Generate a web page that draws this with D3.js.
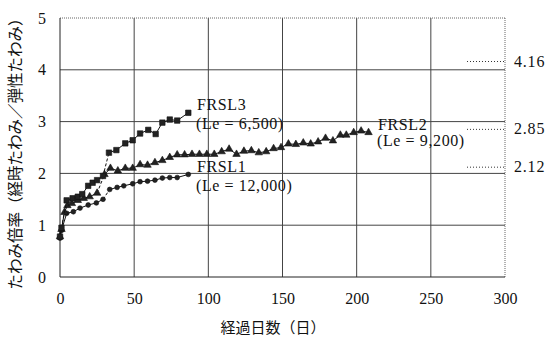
<!DOCTYPE html>
<html>
<head>
<meta charset="utf-8">
<script src="https://cdn.jsdelivr.net/npm/d3@7"></script>
<style>
  body { margin: 0; background: #fff; }
  svg text { fill: #111; }
</style>
</head>
<body>
<svg width="550" height="337"></svg>
<script>
// data
var frsl1Days = [0, 1, 4.5, 9, 13.5, 19, 24.5, 29, 33.5, 38.5, 43, 49, 54, 59, 64, 69, 74, 79, 86.5];
var frsl1Vals = [0.75, 0.9, 1.23, 1.26, 1.33, 1.39, 1.43, 1.5, 1.69, 1.73, 1.76, 1.8, 1.84, 1.85, 1.87, 1.91, 1.92, 1.92, 1.98];

var frsl2Days = [0, 1, 3, 5, 8, 12, 16, 20, 25, 30, 34, 39, 44, 49, 54, 59, 64, 69, 74, 79, 84, 89, 94, 99, 104,
                 109, 114, 119, 124, 129, 134, 139, 144, 149, 154, 159, 164, 169, 174, 179, 184, 189, 193, 198, 203, 208];
var frsl2Vals = [0.78, 0.92, 1.25, 1.38, 1.42, 1.48, 1.52, 1.55, 1.62, 1.98, 2.1, 2.05, 2.1, 2.1, 2.17, 2.16, 2.21, 2.25, 2.31, 2.36, 2.36, 2.37, 2.37, 2.37, 2.37,
                 2.42, 2.47, 2.37, 2.43, 2.44, 2.4, 2.42, 2.48, 2.5, 2.57, 2.56, 2.59, 2.57, 2.61, 2.68, 2.63, 2.74, 2.74, 2.79, 2.82, 2.79];

var frsl3Days = [0, 1, 4.5, 8.5, 12, 15, 19, 22, 25, 29, 33, 38, 44, 49, 54, 59.5, 64.5, 69, 74, 79, 86.5];
var frsl3Vals = [0.78, 0.95, 1.48, 1.52, 1.55, 1.6, 1.76, 1.82, 1.87, 1.95, 2.4, 2.45, 2.58, 2.64, 2.77, 2.84, 2.76, 2.98, 3.04, 3.02, 3.17];

var refVals = [4.16, 2.85, 2.12];
var xTicks = [0, 50, 100, 150, 200, 250, 300];
var yTicks = [0, 1, 2, 3, 4, 5];

var svg = d3.select("svg");
var serif = "'Liberation Serif', 'DejaVu Serif', serif";
var cjk = "'Noto Sans CJK JP', sans-serif";

var x = d3.scaleLinear().domain([0, 300]).range([60, 505]);
var y = d3.scaleLinear().domain([0, 5]).range([277, 18]);

// grid
var g = svg.append("g");
g.selectAll("line.vg")
    .data(xTicks.slice(1, -1))
  .enter().append("line")
    .attr("x1", function(d) { return x(d); })
    .attr("x2", function(d) { return x(d); })
    .attr("y1", y(0)).attr("y2", y(5))
    .attr("stroke", "#444").attr("stroke-width", 1);
g.selectAll("line.hg")
    .data(yTicks.slice(1, -1))
  .enter().append("line")
    .attr("x1", x(0)).attr("x2", x(300))
    .attr("y1", function(d) { return y(d); })
    .attr("y2", function(d) { return y(d); })
    .attr("stroke", "#444").attr("stroke-width", 1);

// frame: top and right dotted, left and bottom solid
g.append("line").attr("x1", x(0)).attr("x2", x(300)).attr("y1", y(5)).attr("y2", y(5))
  .attr("stroke", "#666").attr("stroke-dasharray", "1,1");
g.append("line").attr("x1", x(300)).attr("x2", x(300)).attr("y1", y(5)).attr("y2", y(0))
  .attr("stroke", "#666").attr("stroke-dasharray", "1,1");
g.append("line").attr("x1", x(0)).attr("x2", x(0)).attr("y1", y(5)).attr("y2", y(0))
  .attr("stroke", "#222");
g.append("line").attr("x1", x(0)).attr("x2", x(300)).attr("y1", y(0)).attr("y2", y(0))
  .attr("stroke", "#222");

// axes (labels only)
var xAxis = svg.append("g")
    .attr("transform", "translate(0," + y(0) + ")")
    .call(d3.axisBottom(x).tickValues(xTicks).tickSize(0).tickPadding(16));
var yAxis = svg.append("g")
    .attr("transform", "translate(" + x(0) + ",0)")
    .call(d3.axisLeft(y).tickValues(yTicks).tickFormat(d3.format("d")).tickSize(0).tickPadding(14));
[xAxis, yAxis].forEach(function(a) {
  a.select(".domain").remove();
  a.selectAll("text").style("font-family", serif).style("font-size", "16px").attr("fill", "#111");
});

// series
var series = [
  {days: frsl1Days, vals: frsl1Vals, marker: d3.symbolCircle, size: 18, dashed: [7]},
  {days: frsl2Days, vals: frsl2Vals, marker: d3.symbolTriangle, size: 24, dashed: [8]},
  {days: frsl3Days, vals: frsl3Vals, marker: d3.symbolSquare, size: 30, dashed: [1, 9]}
];

series.forEach(function(s) {
  var pts = s.days.map(function(d, i) { return [x(d), y(s.vals[i])]; });
  var segs = d3.pairs(pts).map(function(p, i) { return {p: p, dash: s.dashed.indexOf(i) >= 0}; });
  g.selectAll(null)
      .data(segs)
    .enter().append("line")
      .attr("x1", function(d) { return d.p[0][0]; })
      .attr("y1", function(d) { return d.p[0][1]; })
      .attr("x2", function(d) { return d.p[1][0]; })
      .attr("y2", function(d) { return d.p[1][1]; })
      .attr("stroke", "#111")
      .attr("stroke-width", 1)
      .attr("stroke-dasharray", function(d) { return d.dash ? "3,2" : null; });
  g.selectAll(null)
      .data(pts)
    .enter().append("path")
      .attr("d", d3.symbol().type(s.marker).size(s.size))
      .attr("transform", function(d) { return "translate(" + d[0] + "," + d[1] + ")"; })
      .attr("fill", "#222")
      .attr("stroke", "#111")
      .attr("stroke-width", 0.6);
});

// series labels
var labels = [
  {t: "FRSL3", x: 197, y: 110}, {t: "(Le = 6,500)", x: 196, y: 129},
  {t: "FRSL1", x: 197, y: 172}, {t: "(Le = 12,000)", x: 196, y: 191},
  {t: "FRSL2", x: 378, y: 130}, {t: "(Le = 9,200)", x: 377, y: 146}
];
svg.selectAll("text.lbl")
    .data(labels)
  .enter().append("text")
    .attr("x", function(d) { return d.x; })
    .attr("y", function(d) { return d.y; })
    .style("font-family", serif)
    .style("font-size", "16px")
    .style("letter-spacing", "0.6px")
    .text(function(d) { return d.t; });

// reference values at the right
svg.selectAll("line.ref")
    .data(refVals)
  .enter().append("line")
    .attr("x1", 467).attr("x2", x(300) - 1)
    .attr("y1", function(d) { return y(d); })
    .attr("y2", function(d) { return y(d); })
    .attr("stroke", "#333")
    .attr("stroke-dasharray", "1,2");
svg.selectAll("text.ref")
    .data(refVals)
  .enter().append("text")
    .attr("x", 514)
    .attr("y", function(d) { return y(d) + 5; })
    .style("font-family", serif)
    .style("font-size", "16px")
    .style("letter-spacing", "0.8px")
    .text(function(d) { return d3.format(".2f")(d); });

// axis titles
svg.append("text")
    .attr("x", 273).attr("y", 333)
    .attr("text-anchor", "middle")
    .style("font-family", cjk)
    .style("font-size", "15px")
    .text("経過日数（日）");
svg.append("text")
    .attr("transform", "translate(21,150) rotate(-90)")
    .attr("text-anchor", "middle")
    .style("font-family", cjk)
    .style("font-size", "15.5px")
    .text("たわみ倍率（経時たわみ／弾性たわみ）");
</script>
</body>
</html>
